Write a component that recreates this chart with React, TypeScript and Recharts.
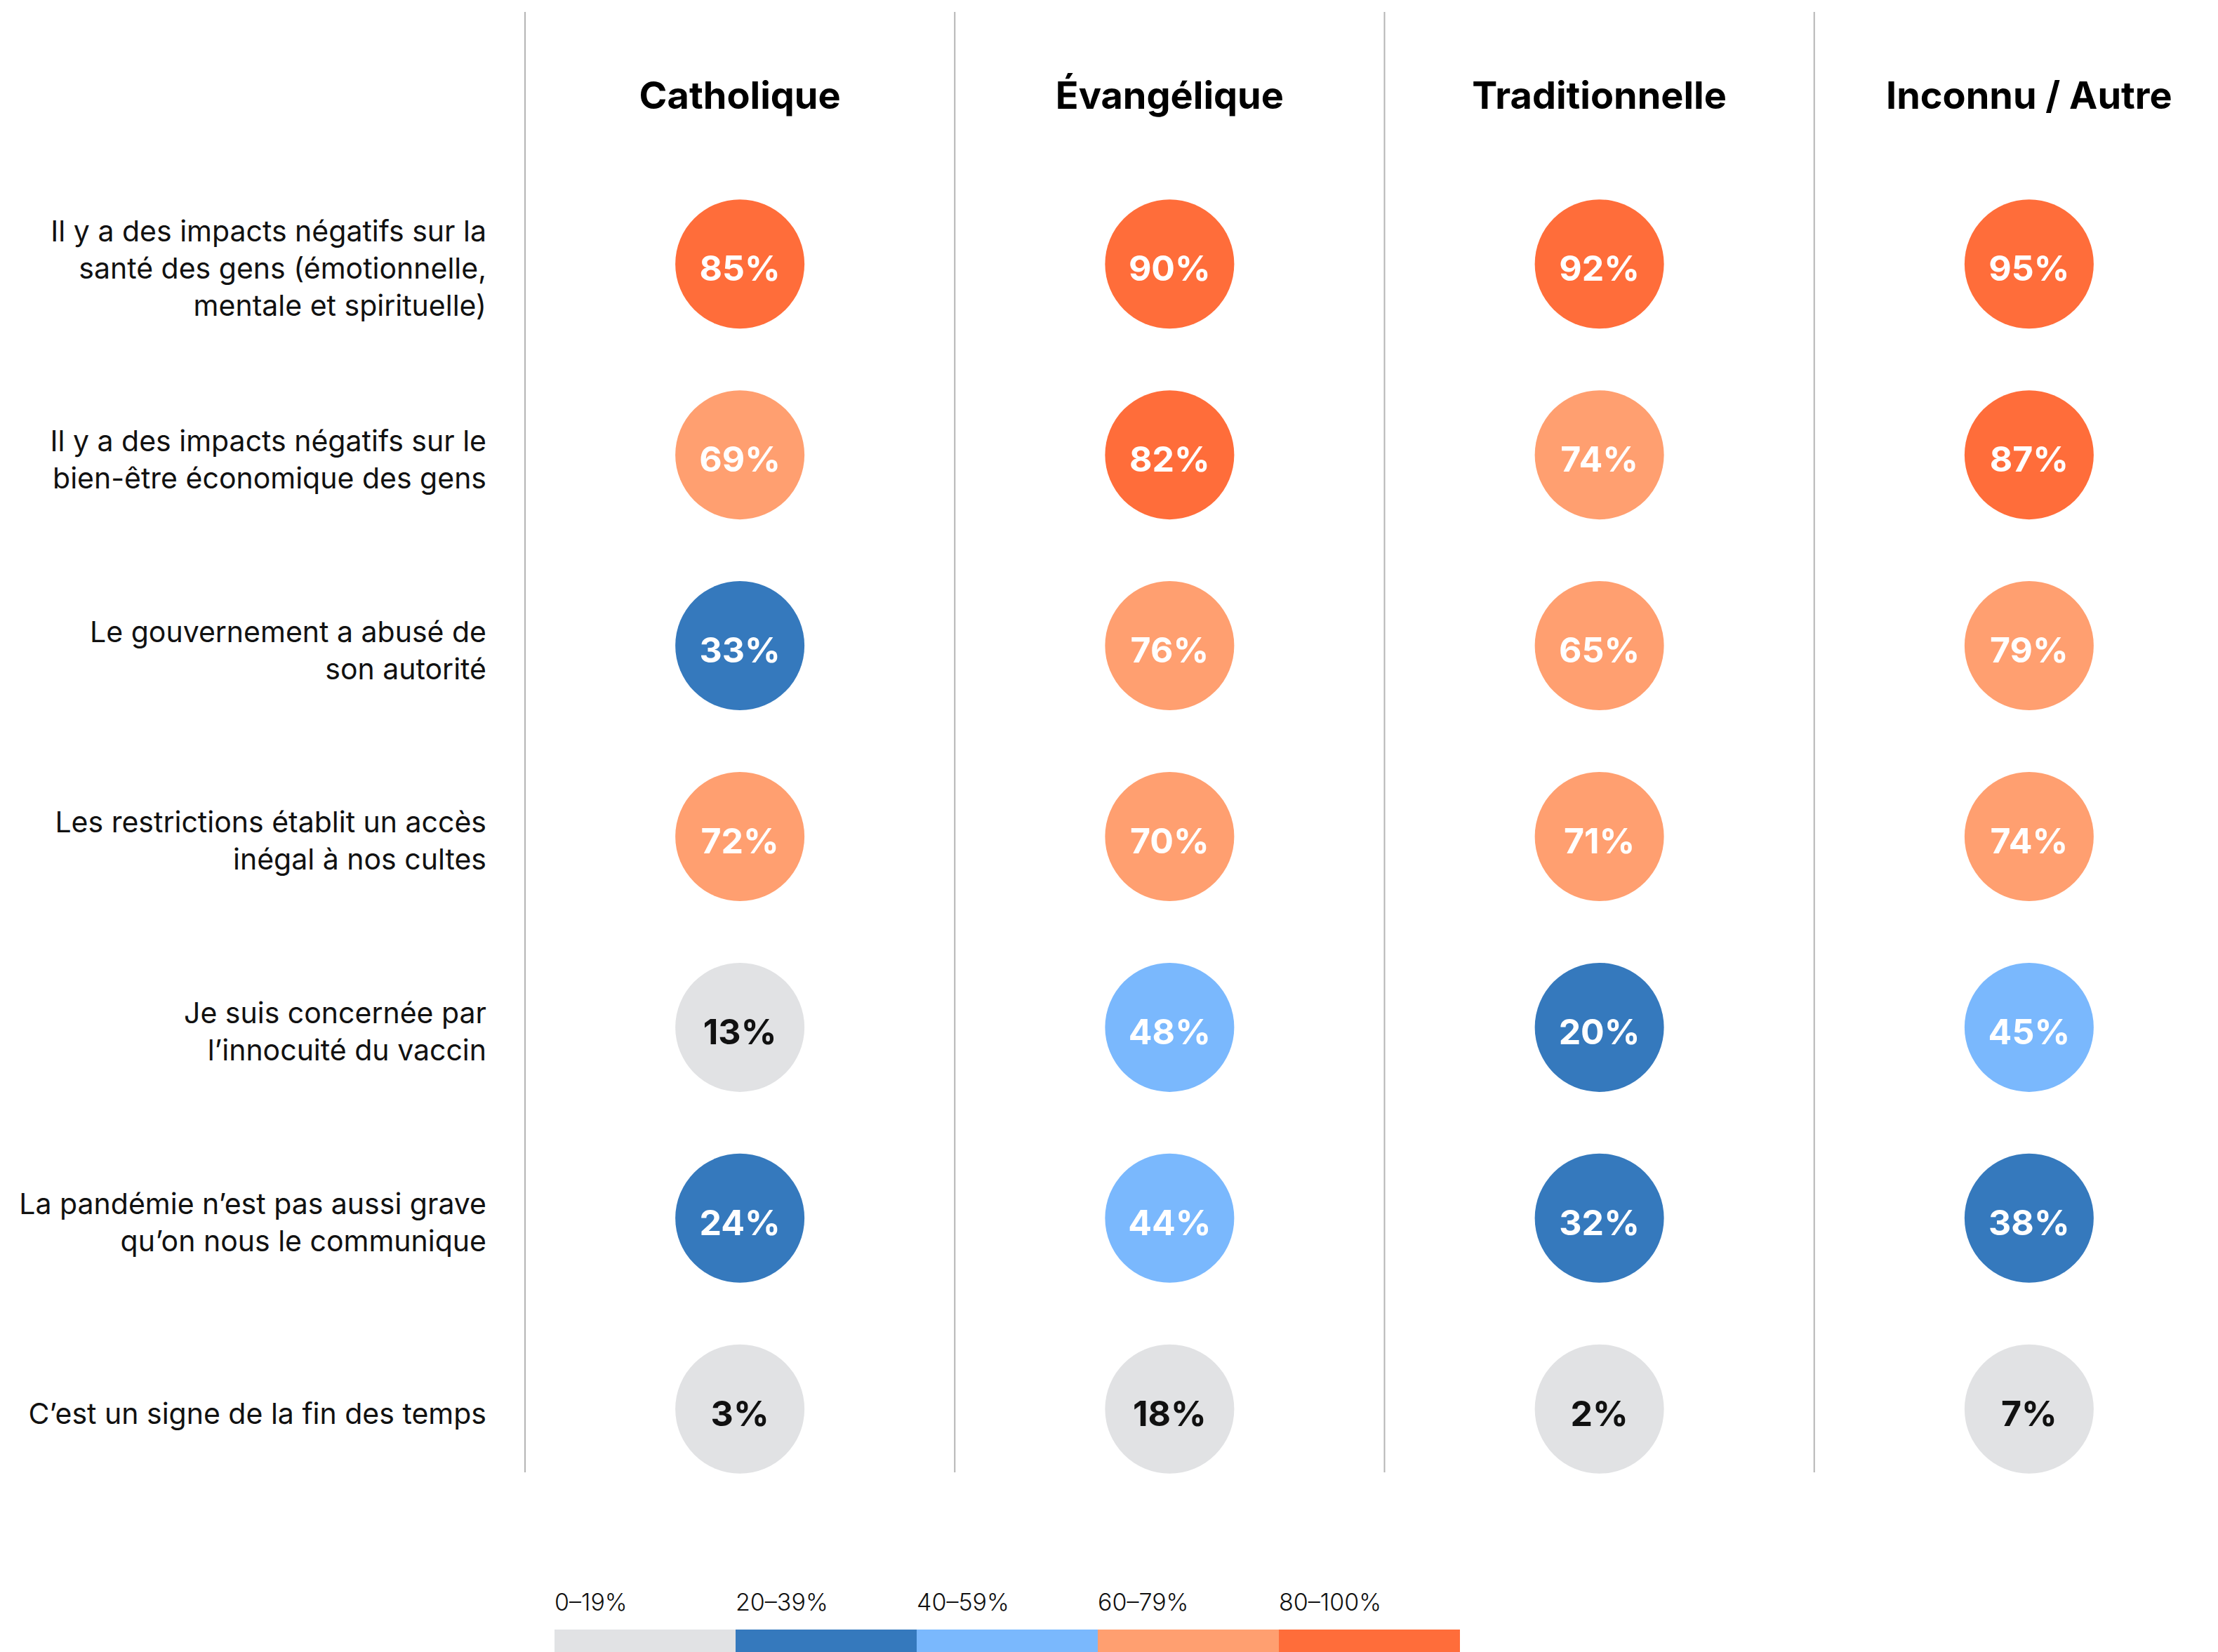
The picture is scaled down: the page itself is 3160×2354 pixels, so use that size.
import { ScatterChart, Scatter, XAxis, YAxis, ReferenceLine } from 'recharts'

const categories = ['Catholique', 'Évangélique', 'Traditionnelle', 'Inconnu / Autre']

const statements = [
  ['Il y a des impacts négatifs sur la', 'santé des gens (émotionnelle,', 'mentale et spirituelle)'],
  ['Il y a des impacts négatifs sur le', 'bien-être économique des gens'],
  ['Le gouvernement a abusé de', 'son autorité'],
  ['Les restrictions établit un accès', 'inégal à nos cultes'],
  ['Je suis concernée par', 'l’innocuité du vaccin'],
  ['La pandémie n’est pas aussi grave', 'qu’on nous le communique'],
  ['C’est un signe de la fin des temps'],
]

const catholique = [85, 69, 33, 72, 13, 24, 3]
const evangelique = [90, 82, 76, 70, 48, 44, 18]
const traditionnelle = [92, 74, 65, 71, 20, 32, 2]
const inconnu = [95, 87, 79, 74, 45, 38, 7]

const binLabels = ['0–19%', '20–39%', '40–59%', '60–79%', '80–100%']
const binMins = [0, 20, 40, 60, 80]
const binColors = ['#E1E2E4', '#3579BD', '#7AB8FD', '#FF9F70', '#FF6D3A']

const FONT = 'Inter, "Noto Sans", sans-serif'

const seriesValues = [catholique, evangelique, traditionnelle, inconnu]
const points = seriesValues.flatMap((vals, col) => vals.map((value, row) => ({ col, row, value })))

const binIndex = (v: number) => {
  let idx = 0
  binMins.forEach((m, k) => {
    if (v >= m) idx = k
  })
  return idx
}

const Bubble = (props: any) => {
  const { cx, cy, payload } = props
  const bin = binIndex(payload.value)
  return (
    <g>
      <circle cx={cx} cy={cy} r={92} fill={binColors[bin]} />
      <text
        x={cx}
        y={cy + 24}
        textAnchor="middle"
        fontSize={50}
        fontWeight={700}
        fontFamily={FONT}
        fill={bin === 0 ? '#111' : '#fff'}
      >
        {payload.value}%
      </text>
    </g>
  )
}

// column headers sit inside the plot, just under the top edge
const HeaderTick = (props: any) => {
  const { x, payload } = props
  return (
    <text x={x} y={155} textAnchor="middle" fontSize={54} fontWeight={700} fontFamily={FONT} fill="#000">
      {categories[payload.value]}
    </text>
  )
}

const RowTick = (props: any) => {
  const { x, y, payload } = props
  const lines = statements[payload.value] || []
  const lh = 53
  return (
    <text x={x} y={y} textAnchor="end" fontSize={41} fontFamily={FONT} fill="#111">
      {lines.map((ln, k) => (
        <tspan key={k} x={x} y={y + 21 + (k - (lines.length - 1) / 2) * lh}>
          {ln}
        </tspan>
      ))}
    </text>
  )
}

function Legend() {
  const left = 790
  const segW = 258
  return (
    <svg width={3160} height={160} style={{ position: 'absolute', left: 0, top: 2200 }}>
      {binLabels.map((lab, i) => (
        <g key={lab}>
          <text x={left + i * segW} y={95} fontSize={34} fontWeight={300} fontFamily={FONT} fill="#111">
            {lab}
          </text>
          <rect x={left + i * segW} y={122} width={segW} height={32} fill={binColors[i]} />
        </g>
      ))}
    </svg>
  )
}

export default function App() {
  return (
    <div
      style={{
        position: 'absolute',
        left: 0,
        top: 0,
        width: 3160,
        height: 2354,
        overflow: 'hidden',
        background: '#fff',
        fontFamily: FONT,
      }}
    >
      <ScatterChart width={3197} height={2354} margin={{ top: 7, right: 0, bottom: 256, left: 0 }}>
        <XAxis
          type="number"
          dataKey="col"
          orientation="top"
          domain={[-0.5, 3.5]}
          ticks={[0, 1, 2, 3]}
          interval={0}
          height={10}
          axisLine={false}
          tickLine={false}
          tick={HeaderTick}
        />
        <YAxis
          type="number"
          dataKey="row"
          reversed
          domain={[-1.321, 6.332]}
          ticks={[0, 1, 2, 3, 4, 5, 6]}
          interval={0}
          width={748}
          axisLine={false}
          tickLine={false}
          tickSize={0}
          tickMargin={55}
          tick={RowTick}
        />
        {[-0.5, 0.5, 1.5, 2.5].map((x) => (
          <ReferenceLine key={x} x={x} stroke="#B5B5B5" strokeWidth={2} />
        ))}
        <Scatter data={points} shape={<Bubble />} isAnimationActive={false} />
      </ScatterChart>
      <Legend />
    </div>
  )
}
